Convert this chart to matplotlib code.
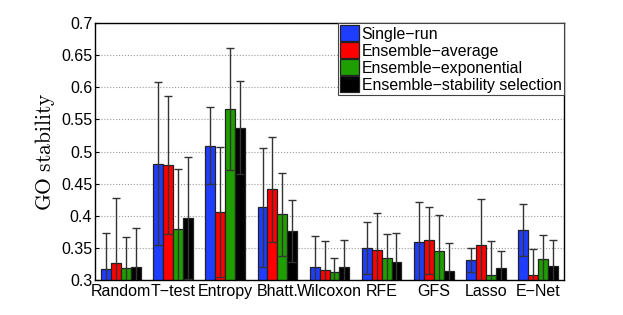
import numpy as np
import matplotlib
matplotlib.use('Agg')
import matplotlib.pyplot as plt

plt.rcParams['font.family'] = ['Liberation Sans', 'DejaVu Sans']
plt.rcParams['mathtext.fontset'] = 'cm'

methods = ['Random', 'T\u2212test', 'Entropy', 'Bhatt.', 'Wilcoxon', 'RFE', 'GFS', 'Lasso', 'E\u2212Net']
series = ['Single\u2212run', 'Ensemble\u2212average', 'Ensemble\u2212exponential',
          'Ensemble\u2212stability selection']

single_run = [0.317, 0.481, 0.509, 0.413, 0.321, 0.350, 0.359, 0.331, 0.378]
ens_avg = [0.327, 0.479, 0.406, 0.441, 0.315, 0.346, 0.362, 0.354, 0.308]
ens_exp = [0.318, 0.380, 0.566, 0.402, 0.313, 0.335, 0.345, 0.308, 0.332]
ens_stab = [0.320, 0.397, 0.537, 0.376, 0.320, 0.328, 0.314, 0.319, 0.322]

err_single = [0.056, 0.127, 0.060, 0.093, 0.048, 0.040, 0.063, 0.019, 0.041]
err_avg = [0.100, 0.107, 0.101, 0.082, 0.046, 0.058, 0.052, 0.072, 0.041]
err_exp = [0.049, 0.093, 0.095, 0.064, 0.022, 0.037, 0.056, 0.053, 0.038]
err_stab = [0.061, 0.095, 0.072, 0.048, 0.043, 0.045, 0.043, 0.026, 0.041]

values = [single_run, ens_avg, ens_exp, ens_stab]
errors = [err_single, err_avg, err_exp, err_stab]
colors = ['#1f3dff', '#ff0000', '#1f9e00', '#000000']

fig = plt.figure(figsize=(6.23, 3.15), dpi=100)
ax = fig.add_axes([95 / 623, 1 - 280 / 315, 469 / 623, 257 / 315])

x = np.arange(1, len(methods) + 1)
w = 0.19
for i in range(4):
    xs = x + (i - 1.5) * w
    ax.bar(xs, values[i], width=w, color=colors[i], edgecolor='#222222',
           linewidth=0.9, label=series[i], zorder=2)
    ax.errorbar(xs, values[i], yerr=errors[i], fmt='none', ecolor='#333333',
                elinewidth=1.0, capsize=3, capthick=1.0, zorder=3)

ax.set_xlim(0.5, 9.5)
ax.set_ylim(0.3, 0.7)
ax.set_yticks(np.arange(0.3, 0.701, 0.05))
ax.set_yticklabels(['0.3', '0.35', '0.4', '0.45', '0.5', '0.55', '0.6', '0.65', '0.7'])
ax.set_xticks(x)
ax.set_xticklabels(methods)
ax.tick_params(axis='both', direction='in', labelsize=11.5, length=3, width=0.8)
ax.tick_params(axis='x', length=0, pad=3)
ax.tick_params(axis='y', pad=2)
ax.yaxis.grid(True, linestyle=':', color='#999999', linewidth=0.8, zorder=0)
ax.set_axisbelow(True)
for s in ax.spines.values():
    s.set_linewidth(1.0)
ax.set_ylabel(r'$\mathrm{GO\ stability}$', fontsize=15.5, labelpad=3)

leg = ax.legend(loc='upper right', fontsize=11.4, fancybox=False, framealpha=1,
                edgecolor='#444444', borderpad=0.15, labelspacing=0.05,
                handlelength=1.2, handleheight=1.15, handletextpad=0.15,
                borderaxespad=0.0)
leg.get_frame().set_linewidth(0.8)

fig.savefig('out.png', dpi=100)
